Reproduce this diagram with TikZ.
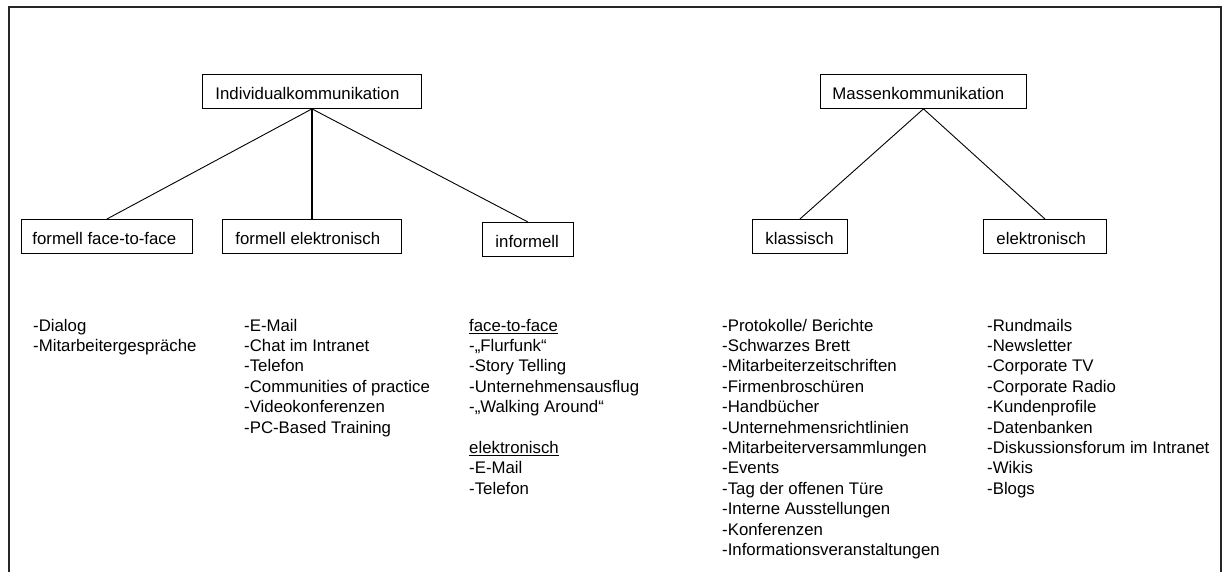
\documentclass[tikz,border=0pt]{standalone}
\usepackage{fontspec}
\setmainfont{Liberation Sans}
\newcommand\lbx[3]{\makebox[#1pt][l]{\hspace{#2pt}#3}}
\begin{document}
\begin{tikzpicture}[x=1pt,y=-1pt,
  every node/.style={font=\fontsize{16.8}{20.4}\selectfont},
  box/.style={draw, line width=0.9pt, inner xsep=0pt, inner ysep=0pt, minimum height=34pt, text height=16pt, text depth=0pt, anchor=north west},
  link/.style={line width=0.9pt},
  thicklink/.style={line width=2pt},
  frame/.style={line width=1.4pt, draw=black!85},
  items/.style={anchor=north west, align=left, inner sep=0pt}]
\useasboundingbox (0,0) rectangle (1223,572);
\draw[frame] (9,572) -- (9,7) -- (1221,7) -- (1221,572);

% boxes
\node[box] (ik)  at (202,74)  {\lbx{219}{13}{Individualkommunikation}};
\node[box] (ff)  at (21,219)  {\lbx{171}{11}{formell face-to-face}};
\node[box] (fe)  at (222,219) {\lbx{179}{13}{formell elektronisch}};
\node[box] (inf) at (482,222) {\lbx{91}{13}{informell}};
\node[box] (mk)  at (820,74)  {\lbx{206}{12}{Massenkommunikation}};
\node[box] (kl)  at (752,219) {\lbx{95}{13}{klassisch}};
\node[box] (el)  at (983,219) {\lbx{123}{13}{elektronisch}};

% connectors
\draw[link] (ik.south) -- (ff.north);
\draw[thicklink] (ik.south) -- (fe.north);
\draw[link] (ik.south) -- (inf.north);
\draw[link] (mk.south) -- (kl.north);
\draw[link] (mk.south) -- (el.north);

% lists
\node[items] (l1) at (33,316.7) {\strut-Dialog\\-Mitarbeitergespräche};
\node[items] (l2) at (244,316.7) {\strut-E-Mail\\-Chat im Intranet\\-Telefon\\-Communities of practice\\-Videokonferenzen\\-PC-Based Training};
\node[items] (l3) at (469,316.7) {\strut\underline{face-to-face}\\-„Flurfunk“\\-Story Telling\\-Unternehmensausflug\\-„Walking Around“\\ \mbox{}\\\underline{elektronisch}\\-E-Mail\\-Telefon};
\node[items] (l4) at (722,316.7) {\strut-Protokolle/ Berichte\\-Schwarzes Brett\\-Mitarbeiterzeitschriften\\-Firmenbroschüren\\-Handbücher\\-Unternehmensrichtlinien\\-Mitarbeiterversammlungen\\-Events\\-Tag der offenen Türe\\-Interne Ausstellungen\\-Konferenzen\\-Informationsveranstaltungen};
\node[items] (l5) at (987,316.7) {\strut-Rundmails\\-Newsletter\\-Corporate TV\\-Corporate Radio\\-Kundenprofile\\-Datenbanken\\-Diskussionsforum im Intranet\\-Wikis\\-Blogs};
\end{tikzpicture}
\end{document}
